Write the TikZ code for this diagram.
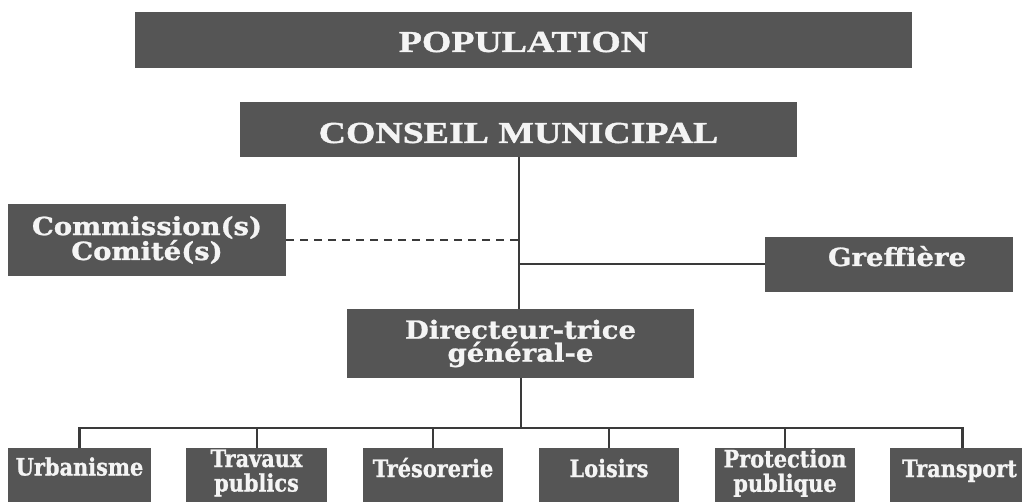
\documentclass[tikz,border=0pt]{standalone}
\usepackage{fontspec}
\newfontfamily\topfont[FakeStretch=1.24,FakeBold=1.2]{Liberation Serif}
\newfontfamily\midfont[FakeStretch=1.1,FakeBold=1]{DejaVu Serif}
\newfontfamily\lowfont[FakeStretch=0.87,FakeBold=1]{DejaVu Serif}
\usetikzlibrary{calc}
\definecolor{boxgray}{HTML}{555555}
\definecolor{linegray}{HTML}{3A3A3A}
\definecolor{txt}{HTML}{F4F4F4}
\begin{document}
\begin{tikzpicture}[x=1pt,y=-1pt,
  box/.style={fill=boxgray,draw=none,inner sep=0pt,text=txt,align=center},
  lbl/.style={inner sep=0pt,text=txt,align=center,font=\lowfont\bfseries\fontsize{24}{24.5}\selectfont},
  big/.style={font=\topfont\bfseries\fontsize{30.5}{32}\selectfont},
  small/.style={font=\midfont\bfseries\fontsize{25}{23}\selectfont},
  conn/.style={draw=linegray,line width=2pt},
  dashconn/.style={draw=linegray,line width=2pt,dash pattern=on 8pt off 6pt}]
\useasboundingbox (0,0) rectangle (1022,502);
\clip (0,0) rectangle (1022,502);
\fill[white] (0,0) rectangle (1022,502);
% boxes
\node[box,big,minimum width=777pt,text height=40pt,text depth=16pt] (pop) at (523.5,40) {POPULATION};
\node[box,big,minimum width=557pt,text height=41pt,text depth=14pt] (cons) at (518.5,129.5) {CONSEIL MUNICIPAL};
\node[box,small,minimum width=278pt,minimum height=72pt] (comm) at (147,240) {Commission(s)\\Comité(s)};
\node[box,minimum width=248pt,minimum height=55pt] (gref) at (889,264.5) {};
\node[box,small,anchor=base] (greft) at (897,266) {Greffière};
\node[box,small,minimum width=347pt,minimum height=69pt] (dir) at (520.5,343.5) {Directeur-trice\\général-e};
% bottom boxes (cut by the frame)
\node[box,minimum width=143pt,minimum height=80pt,anchor=north] (urb) at (79.5,448) {};
\node[box,minimum width=141pt,minimum height=80pt,anchor=north] (trav) at (256.5,448) {};
\node[box,minimum width=140pt,minimum height=80pt,anchor=north] (tres) at (433,448) {};
\node[box,minimum width=140pt,minimum height=80pt,anchor=north] (lois) at (609,448) {};
\node[box,minimum width=140pt,minimum height=80pt,anchor=north] (prot) at (785,448) {};
\node[box,minimum width=145pt,minimum height=80pt,anchor=north] (trans) at (962.5,448) {};
\node[lbl,anchor=base] (urbt) at ($(urb.north)+(0,27.5)$) {Urbanisme};
\node[lbl] (travt) at ($(trav.north)+(0,25)$) {Travaux\\publics};
\node[lbl,anchor=base] (trest) at ($(tres.north)+(0,29)$) {Trésorerie};
\node[lbl,anchor=base] (loist) at ($(lois.north)+(0,29)$) {Loisirs};
\node[lbl] (prott) at ($(prot.north)+(0,25)$) {Protection\\publique};
\node[lbl,anchor=base] (transt) at ($(trans.north)+(-3,29)$) {Transport};
% connectors
\coordinate (bus) at (519,428);
\draw[conn] (cons.south) -- (cons.south |- dir.north);
\draw[dashconn] (comm.east) -- (comm.east -| cons.south);
\draw[conn] (gref.west -| cons.south) -- (gref.west);
\draw[conn] (dir.south) -- (dir.south |- bus);
\draw[conn,line width=2.5pt] (urb.north) -- (urb.north |- bus) -- (trans.north |- bus) -- (trans.north);
\draw[conn] (trav.north) -- (trav.north |- bus);
\draw[conn] (tres.north) -- (tres.north |- bus);
\draw[conn] (lois.north) -- (lois.north |- bus);
\draw[conn] (prot.north) -- (prot.north |- bus);
\end{tikzpicture}
\end{document}
